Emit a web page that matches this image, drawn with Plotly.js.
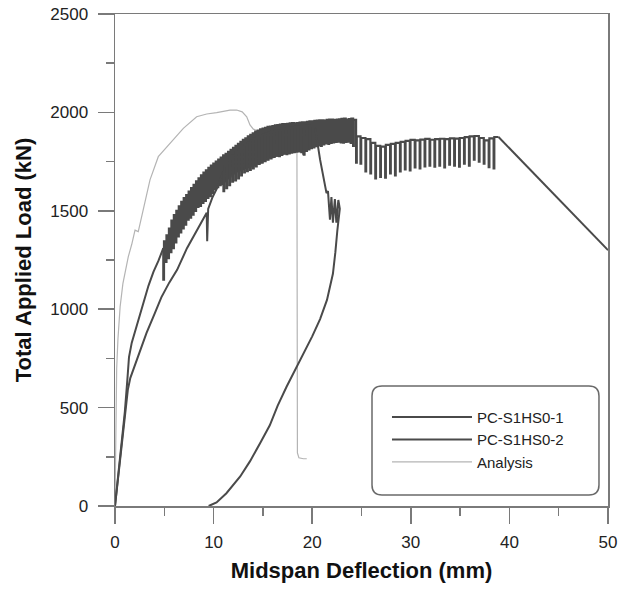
<!DOCTYPE html>
<html>
<head>
<meta charset="utf-8">
<script src="https://cdn.plot.ly/plotly-3.0.1.min.js"></script>
<style>html,body{margin:0;padding:0;background:#fff;}#chart{width:629px;height:591px;}</style>
</head>
<body>
<div id="chart"></div>
<script>
// ---- Data ----
const seriesNames = ['PC-S1HS0-1', 'PC-S1HS0-2', 'Analysis'];

// PC-S1HS0-1 : initial branch
const s1PreX = [0, 0.3, 0.65, 1.0, 1.25, 1.42, 1.7, 2.0, 2.45, 2.9, 3.4, 3.9, 4.4, 4.9];
const s1PreY = [0, 140, 310, 480, 640, 757, 830, 880, 965, 1040, 1120, 1190, 1245, 1310];
// PC-S1HS0-1 : unload/reload cycles (peak x, peak load, trough load)
const s1CycX = [
  4.90, 5.15, 5.40, 5.65, 5.90, 6.15, 6.40, 6.65, 6.90, 7.15,
  7.40, 7.65, 7.90, 8.15, 8.40, 8.65, 8.90, 9.15, 9.40, 9.65,
  9.90, 10.15, 10.40, 10.65, 10.90, 11.15, 11.40, 11.65, 11.90, 12.15,
  12.40, 12.65, 12.90, 13.15, 13.40, 13.65, 13.90, 14.15, 14.40, 14.65,
  14.90, 15.15, 15.40, 15.65, 15.90, 16.15, 16.40, 16.65, 16.90, 17.15,
  17.40, 17.65, 17.90, 18.15, 18.40, 18.65, 18.90, 19.15, 19.40, 19.65,
  19.90, 20.15, 20.40, 20.65, 20.90, 21.15, 21.40, 21.65, 21.90, 22.15,
  22.40, 22.65, 22.90, 23.15, 23.40, 23.65, 23.90, 24.15, 24.45,
  24.9, 25.4, 25.9, 26.4, 26.9, 27.4, 27.9, 28.4, 28.9, 29.4,
  29.9, 30.4, 30.9, 31.4, 31.9, 32.4, 32.9, 33.4, 33.9, 34.4,
  34.9, 35.4, 35.9, 36.4, 36.9, 37.4, 37.9, 38.4, 38.9];
const s1CycPeak = [
  1310, 1345, 1375, 1410, 1450, 1478, 1500, 1522, 1545, 1565,
  1580, 1598, 1615, 1632, 1650, 1665, 1680, 1694, 1705, 1718,
  1730, 1740, 1750, 1760, 1770, 1782, 1790, 1800, 1810, 1820,
  1830, 1840, 1850, 1860, 1868, 1878, 1886, 1894, 1902, 1908,
  1914, 1918, 1922, 1926, 1928, 1931, 1934, 1936, 1938, 1940,
  1941, 1942, 1944, 1945, 1944, 1946, 1948, 1950, 1950, 1952,
  1954, 1955, 1957, 1958, 1960, 1959, 1958, 1962, 1963, 1964,
  1961, 1964, 1965, 1967, 1968, 1964, 1966, 1968, 1962,
  1878, 1870, 1864, 1845, 1830, 1826, 1835, 1840, 1845, 1850,
  1855, 1860, 1858, 1862, 1865, 1861, 1864, 1866, 1864, 1868,
  1867, 1870, 1874, 1878, 1880, 1870, 1858, 1868, 1875];
const s1CycTrough = [
  1150, 1240, 1260, 1290, 1310, 1340, 1370, 1390, 1410, 1430,
  1455, 1465, 1480, 1500, 1520, 1525, 1540, 1550, 1565, 1575,
  1590, 1610, 1620, 1630, 1635, 1650, 1665, 1675, 1685, 1690,
  1700, 1705, 1712, 1718, 1722, 1720, 1728, 1732, 1740, 1745,
  1750, 1758, 1762, 1770, 1772, 1776, 1780, 1778, 1784, 1790,
  1788, 1792, 1795, 1798, 1800, 1802, 1798, 1785, 1805, 1812,
  1818, 1822, 1828, 1832, 1830, 1838, 1842, 1840, 1845, 1848,
  1850, 1852, 1848, 1846, 1850, 1852, 1845, 1830, 1745,
  1740, 1700, 1690, 1665, 1672, 1668, 1690, 1680, 1700, 1710,
  1705, 1720, 1715, 1725, 1730, 1724, 1730, 1720, 1735, 1730,
  1724, 1740, 1730, 1760, 1750, 1740, 1722, 1715, null];
// PC-S1HS0-1 : final descending branch
const s1PostX = [38.9, 50];
const s1PostY = [1875, 1300];

// PC-S1HS0-2 : initial branch
const s2PreX = [0, 0.3, 0.65, 1.0, 1.3, 1.55, 1.83, 2.5, 3.2, 4.0, 4.7, 5.5, 6.3, 7.3, 8.5, 9.3, 9.35, 9.45, 9.9, 10.4, 11.0];
const s2PreY = [0, 140, 310, 470, 590, 650, 690, 780, 880, 975, 1060, 1135, 1200, 1310, 1420, 1490, 1345, 1510, 1570, 1620, 1700];
// PC-S1HS0-2 : cycles
const s2CycX = [11.0, 11.3, 11.6, 11.9, 12.2, 12.5, 12.8, 13.1, 13.4, 13.7,
  14.0, 14.3, 14.6, 14.9, 15.2, 15.5, 15.8, 16.1, 16.4, 16.7,
  17.0, 17.3, 17.6, 17.9, 18.2, 18.5, 18.8, 19.1, 19.4, 19.7, 20.0, 20.3];
const s2CycPeak = [1700, 1725, 1745, 1765, 1782, 1796, 1810, 1824, 1836, 1848,
  1858, 1866, 1874, 1882, 1888, 1893, 1898, 1902, 1906, 1909,
  1912, 1915, 1918, 1921, 1924, 1926, 1929, 1930, 1933, 1934, 1930, 1920];
const s2CycTrough = [1600, 1615, 1630, 1648, 1655, 1665, 1680, 1695, 1702, 1708,
  1716, 1725, 1738, 1745, 1752, 1760, 1766, 1774, 1780, 1786,
  1790, 1795, 1798, 1800, 1800, 1806, 1810, 1790, 1815, 1822, 1830, null];
// PC-S1HS0-2 : drop, small cycles and unloading
const s2PostX = [20.3, 20.8, 21.45, 21.6, 21.8, 21.95, 22.1, 22.3, 22.45, 22.65, 22.8, 22.7,
  22.55, 22.35, 22.1, 21.5, 20.8, 20.0, 18.8, 17.4, 16.5, 15.7, 14.7, 13.7, 12.7, 11.3, 10.3, 9.5];
const s2PostY = [1920, 1760, 1590, 1600, 1455, 1570, 1440, 1560, 1440, 1555, 1510, 1450,
  1400, 1290, 1180, 1047, 950, 862, 745, 606, 510, 410, 318, 228, 150, 65, 18, 0];

// Analysis
const anX = [0, 0.02, 0.06, 0.1, 0.17, 0.3, 0.52, 0.8, 1.1, 1.35, 1.7, 2.03, 2.36, 2.87, 3.55,
  4.39, 5.0, 5.58, 6.93, 8.28, 9.3, 10.31, 11.66, 12.34, 12.9, 13.36, 13.69, 14.03, 15.04,
  16.5, 18.3, 18.45, 18.48, 18.5, 18.65, 19.1, 19.45];
const anY = [0, 150, 330, 589, 700, 850, 1013, 1130, 1210, 1267, 1330, 1402, 1394, 1504, 1657,
  1775, 1810, 1843, 1919, 1978, 1992, 1999, 2012, 2012, 2003, 1978, 1936, 1915, 1895,
  1885, 1875, 1860, 600, 270, 245, 240, 240];

const xTicks = [0, 10, 20, 30, 40, 50];
const yTicks = [0, 500, 1000, 1500, 2000, 2500];

// ---- Build cycle paths from the arrays ----
const SPIKE = 0.07; // width of an unloading loop (mm)
function buildCycles(cx, cp, ct) {
  const x = [], y = [];
  for (let i = 0; i < cx.length; i++) {
    x.push(cx[i]); y.push(cp[i]);
    if (ct[i] !== null && ct[i] !== undefined) { x.push(cx[i] + SPIKE); y.push(ct[i]); }
  }
  return {x, y};
}
const c1 = buildCycles(s1CycX, s1CycPeak, s1CycTrough);
const c2 = buildCycles(s2CycX, s2CycPeak, s2CycTrough);

const dark = '#4a4a4a';
const W = 2;
function seg(x, y, name, group, show, rank, shape, width) {
  return {x, y, name, legendgroup: group, showlegend: show, legendrank: rank, type: 'scatter', mode: 'lines',
    line: {color: dark, width: width || W, shape: shape || 'linear'}};
}
const traces = [
  // analysis drawn first so the test curves cover it, listed last in the legend
  {x: anX, y: anY, name: seriesNames[2], legendgroup: 'g3', legendrank: 3, type: 'scatter', mode: 'lines',
   line: {color: '#b4b4b4', width: 1.2}},
  seg(s1PreX, s1PreY, seriesNames[0], 'g1', true, 1),
  seg(c1.x, c1.y, seriesNames[0], 'g1', false, 1, 'vh', 2.2),
  seg(s1PostX, s1PostY, seriesNames[0], 'g1', false, 1),
  seg(s2PreX, s2PreY, seriesNames[1], 'g2', true, 2),
  seg(c2.x, c2.y, seriesNames[1], 'g2', false, 2, 'vh', 2.2),
  seg(s2PostX, s2PostY, seriesNames[1], 'g2', false, 2)
];

const axisCol = '#7a7a7a';
const x0 = 0.5213, x1 = 0.9817, y0 = 0.0224, y1 = 0.2439, rx = 0.0203, ry = 0.0203;
const boxPath = `M${x0+rx},${y0} L${x1-rx},${y0} Q${x1},${y0} ${x1},${y0+ry} L${x1},${y1-ry} Q${x1},${y1} ${x1-rx},${y1} L${x0+rx},${y1} Q${x0},${y1} ${x0},${y1-ry} L${x0},${y0+ry} Q${x0},${y0} ${x0+rx},${y0} Z`;

const layout = {
  width: 629, height: 591,
  margin: {l: 115, r: 21, t: 14, b: 85},
  paper_bgcolor: '#ffffff', plot_bgcolor: '#ffffff',
  font: {family: '"Liberation Sans", Arial, sans-serif', color: '#222'},
  showlegend: true,
  legend: {x: 0.5517, y: 0.214, xanchor: 'left', yanchor: 'top', traceorder: 'normal',
    bgcolor: 'rgba(0,0,0,0)', borderwidth: 0, itemwidth: 80, tracegroupgap: 0,
    font: {size: 15, color: '#222'}},
  xaxis: {
    range: [0, 50], tickvals: xTicks, ticktext: xTicks.map(String),
    showgrid: false, zeroline: false, showline: true, mirror: true,
    linecolor: axisCol, linewidth: 1.5,
    ticks: 'outside', ticklen: 16, tickwidth: 1.5, tickcolor: axisCol,
    minor: {ticks: 'outside', ticklen: 8, dtick: 5, tick0: 0, tickwidth: 1.5, tickcolor: axisCol, showgrid: false},
    tickfont: {size: 17, color: '#222'}, ticklabelstandoff: 4,
    title: {text: '<b>Midspan Deflection (mm)</b>', font: {size: 22, color: '#111'}, standoff: 11}
  },
  yaxis: {
    range: [0, 2500], tickvals: yTicks, ticktext: yTicks.map(String),
    showgrid: false, zeroline: false, showline: true, mirror: true,
    linecolor: axisCol, linewidth: 1.5,
    ticks: 'outside', ticklen: 16, tickwidth: 1.5, tickcolor: axisCol,
    minor: {ticks: 'outside', ticklen: 8, dtick: 250, tick0: 0, tickwidth: 1.5, tickcolor: axisCol, showgrid: false},
    tickfont: {size: 17, color: '#222'}, ticklabelstandoff: 6,
    title: {text: '<b>Total Applied Load (kN)</b>', font: {size: 22, color: '#111'}, standoff: 12}
  },
  shapes: [{type: 'path', xref: 'paper', yref: 'paper', path: boxPath,
    line: {color: '#6a6a6a', width: 1.5}, fillcolor: 'rgba(0,0,0,0)', layer: 'above'}]
};

Plotly.newPlot('chart', traces, layout, {displayModeBar: false, staticPlot: true});
</script>
</body>
</html>
